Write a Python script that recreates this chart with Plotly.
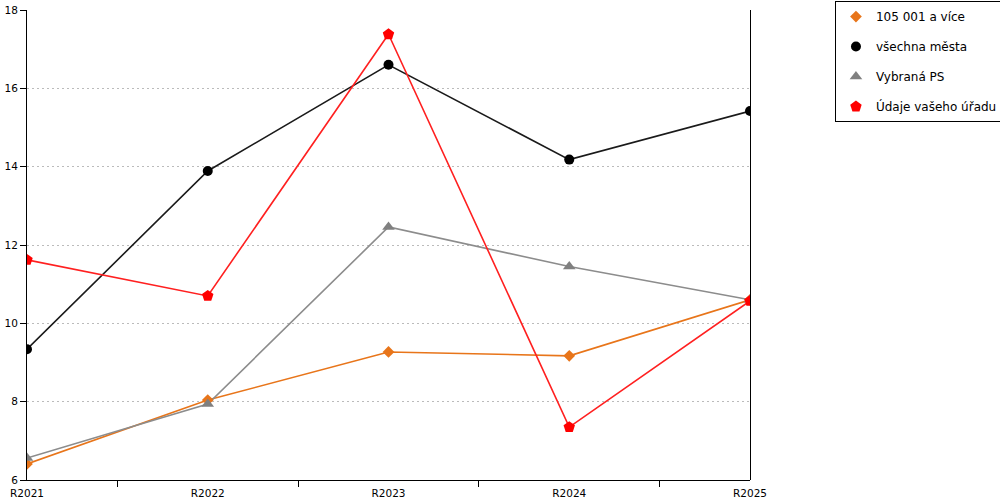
import plotly.graph_objects as go

years = ["R2021", "R2022", "R2023", "R2024", "R2025"]

nad_105001 = [6.41, 8.04, 9.27, 9.17, 10.6]
vsechna_mesta = [9.34, 13.89, 16.6, 14.18, 15.42]
vybrana_ps = [6.56, 7.94, 12.46, 11.45, 10.6]
vas_urad = [11.62, 10.7, 17.38, 7.35, 10.57]

series = [
    ("105 001 a více", nad_105001, "#E8751A", "#E8751A", "diamond", 9),
    ("všechna města", vsechna_mesta, "#1a1a1a", "#000000", "circle", 10),
    ("Vybraná PS", vybrana_ps, "#8c8c8c", "#808080", "triangle-up", 11),
    ("Údaje vašeho úřadu", vas_urad, "#FF2020", "#FF0000", "pentagon", 12),
]

fig = go.Figure()

# lines first (no legend), then markers so the legend shows only symbols
for name, vals, lc, mc, sym, sz in series:
    fig.add_trace(go.Scatter(x=years, y=vals, mode="lines", showlegend=False,
                             legendgroup=name, hoverinfo="skip",
                             line=dict(color=lc, width=1.6)))
for name, vals, lc, mc, sym, sz in series:
    fig.add_trace(go.Scatter(x=years, y=vals, mode="markers", name=name,
                             legendgroup=name,
                             marker=dict(symbol=sym, size=sz, color=mc)))

fig.update_layout(
    width=1000, height=500,
    paper_bgcolor="white", plot_bgcolor="white",
    font=dict(family="DejaVu Sans", size=12, color="#000000"),
    margin=dict(l=27, r=250, t=10, b=20, pad=0, autoexpand=False),
    legend=dict(x=1.1175, y=1.019, xanchor="left", yanchor="top",
                bordercolor="#000000", borderwidth=1, tracegroupgap=11,
                font=dict(size=12)),
    xaxis=dict(type="category", range=[0, 4], showline=True, linecolor="#000000",
               linewidth=1, ticks="outside", tickson="boundaries", ticklen=6,
               tickcolor="#000000", showgrid=False, zeroline=False,
               automargin=False, ticklabelstandoff=3, tickfont=dict(size=10.5)),
    yaxis=dict(range=[6, 18], dtick=2, showline=True, linecolor="#000000",
               linewidth=1, ticks="outside", ticklen=6, tickcolor="#000000",
               showgrid=True, gridcolor="#bbbbbb", griddash="2px,3px", zeroline=False,
               automargin=False, tickfont=dict(size=10.5)),
    # right border of the plot area (half-pixel nudge keeps it crisp)
    shapes=[dict(type="line", xref="paper", yref="paper",
                 x0=1 + 0.5 / 723, x1=1 + 0.5 / 723, y0=0, y1=1,
                 layer="above", line=dict(color="#000000", width=1))],
)

# drop the default body margin so the figure sits at the window's corner
fig.write_html("out.html", config={"displayModeBar": False},
               post_script="document.body.style.margin='0';")
